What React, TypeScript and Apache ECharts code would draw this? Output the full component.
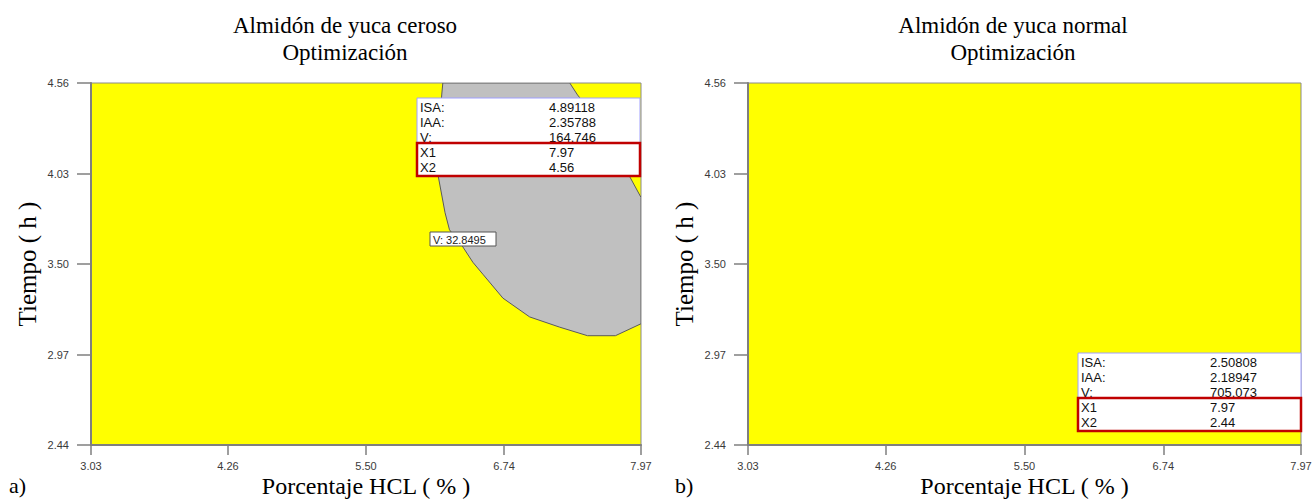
import React, { useEffect, useRef } from "react";
import * as echarts from "echarts";

// Axis ticks shared by both panels
const xTicks = [3.03, 4.26, 5.5, 6.74, 7.97];
const yTicks = [2.44, 2.97, 3.5, 4.03, 4.56];

// Grey contour region (V) in the waxy-starch panel: HCL % and time (h)
const ellipseX = [6.19, 7.33, 7.4, 7.51, 7.65, 7.76, 7.87, 7.97, 7.97, 7.74, 7.49, 7.24, 6.97, 6.73, 6.55, 6.46, 6.37, 6.25, 6.21, 6.15, 6.16, 6.18];
const ellipseY = [4.56, 4.56, 4.49, 4.4, 4.26, 4.13, 4.01, 3.89, 3.15, 3.08, 3.08, 3.13, 3.19, 3.3, 3.44, 3.51, 3.6, 3.7, 3.8, 4.01, 4.23, 4.49];
const contourLabel = "V: 32.8495";

// Optimum readouts
const boxKeys = ["ISA:", "IAA:", "V:", "X1", "X2"];
const waxyValues = ["4.89118", "2.35788", "164.746", "7.97", "4.56"];
const normalValues = ["2.50808", "2.18947", "705.073", "7.97", "2.44"];

const panelTitles = ["Almidón de yuca ceroso", "Almidón de yuca normal"];
const panelSubtitle = "Optimización";
const panelTags = ["a)", "b)"];
const xName = "Porcentaje HCL ( % )";
const yName = "Tiempo ( h )";

const SERIF = "'Liberation Serif', 'Times New Roman', serif";
const SANS = "'Liberation Sans', Arial, sans-serif";
const TOP_Z = 100;

function readoutBox(left: number, top: number, values: string[]) {
  const w = 223;
  const h = 78;
  const row = 15;
  const redTop = 45;
  const children: any[] = [
    { type: "rect", z: TOP_Z, shape: { x: 0, y: 0, width: w, height: h }, style: { fill: "#ffffff", stroke: "#a0a0ff", lineWidth: 1 } },
  ];
  const textRow = (i: number, z: number) => [
    { type: "text", z, x: 3, y: 9 + i * row, style: { text: boxKeys[i], font: `13px ${SANS}`, fill: "#111", verticalAlign: "middle" } },
    { type: "text", z, x: 132, y: 9 + i * row, style: { text: values[i], font: `13px ${SANS}`, fill: "#111", verticalAlign: "middle" } },
  ];
  for (let i = 0; i < 3; i++) children.push(...textRow(i, TOP_Z + 1));
  children.push({
    type: "rect",
    z: TOP_Z + 2,
    shape: { x: 0, y: redTop, width: w, height: h - redTop },
    style: { fill: "#ffffff", stroke: "#c00000", lineWidth: 2.5 },
  });
  for (let i = 3; i < 5; i++) children.push(...textRow(i, TOP_Z + 3));
  return { type: "group", x: left, y: top, z: TOP_Z, children };
}

function axisPair(gridIndex: number) {
  const xAxis = {
    gridIndex,
    type: "value",
    min: 3.03,
    max: 7.97,
    axisLine: { show: true, onZero: false, lineStyle: { color: "#7f7f7f", width: 2 } },
    axisTick: { show: true, customValues: xTicks, length: 10, lineStyle: { color: "#7f7f7f", width: 1.5 } },
    axisLabel: {
      customValues: xTicks,
      formatter: (v: number) => v.toFixed(2),
      fontFamily: SANS,
      fontSize: 11,
      color: "#3a3a3a",
      margin: 15,
    },
    splitLine: { show: false },
    name: xName,
    nameLocation: "middle",
    nameMoveOverlap: false,
    nameGap: 29,
    nameTextStyle: { fontFamily: SERIF, fontSize: 24, color: "#000" },
  };
  const yAxis = {
    gridIndex,
    type: "value",
    min: 2.44,
    max: 4.56,
    axisLine: { show: true, onZero: false, lineStyle: { color: "#7f7f7f", width: 2 } },
    axisTick: { show: true, customValues: yTicks, length: 14, lineStyle: { color: "#7f7f7f", width: 1.5 } },
    axisLabel: {
      customValues: yTicks,
      formatter: (v: number) => v.toFixed(2),
      fontFamily: SANS,
      fontSize: 11,
      color: "#3a3a3a",
      margin: 22,
    },
    splitLine: { show: false },
    name: yName,
    nameLocation: "middle",
    nameMoveOverlap: false,
    nameGap: 51,
    nameTextStyle: { fontFamily: SERIF, fontSize: 25, color: "#000" },
  };
  return { xAxis, yAxis };
}

export default function App() {
  const ref = useRef<HTMLDivElement>(null);

  useEffect(() => {
    if (!ref.current) return;
    const chart = echarts.init(ref.current, undefined, { renderer: "svg" });
    const a = axisPair(0);
    const b = axisPair(1);

    const titleText = (cx: number, title: string) => [
      { type: "text", x: cx, y: 25, z: TOP_Z, style: { text: title, font: `23px ${SERIF}`, fill: "#000", align: "center", verticalAlign: "middle" } },
      { type: "text", x: cx, y: 52, z: TOP_Z, style: { text: panelSubtitle, font: `23px ${SERIF}`, fill: "#000", align: "center", verticalAlign: "middle" } },
    ];

    const gridBase = {
      top: 83,
      height: 362,
      show: true,
      backgroundColor: "#ffff00",
      borderColor: "#8a8a8a",
      borderWidth: 1,
      containLabel: false,
      outerBoundsMode: "none",
    };

    chart.setOption({
      animation: false,
      backgroundColor: "#ffffff",
      grid: [
        { ...gridBase, left: 91, width: 550 },
        { ...gridBase, left: 748, width: 553 },
      ],
      xAxis: [a.xAxis, b.xAxis],
      yAxis: [a.yAxis, b.yAxis],
      series: [
        {
          type: "custom",
          xAxisIndex: 0,
          yAxisIndex: 0,
          clip: true,
          z: 1,
          data: ellipseX.map((x, i) => [x, ellipseY[i]]),
          renderItem: (params: any, api: any) => {
            if (params.dataIndex !== 0) return null;
            const pts = ellipseX.map((x, i) => api.coord([x, ellipseY[i]]));
            return {
              type: "polygon",
              shape: { points: pts },
              style: { fill: "#c0c0c0", stroke: "#5a5a5a", lineWidth: 1 },
            };
          },
        },
      ],
      graphic: [
        ...titleText(345, panelTitles[0]),
        ...titleText(1013, panelTitles[1]),
        { type: "text", x: 9, y: 485, z: TOP_Z, style: { text: panelTags[0], font: `22px ${SERIF}`, fill: "#000", verticalAlign: "middle" } },
        { type: "text", x: 675, y: 485, z: TOP_Z, style: { text: panelTags[1], font: `22px ${SERIF}`, fill: "#000", verticalAlign: "middle" } },
        readoutBox(417, 98, waxyValues),
        readoutBox(1078, 353, normalValues),
        {
          type: "group",
          x: 430,
          y: 232,
          z: TOP_Z,
          children: [
            { type: "rect", z: TOP_Z, shape: { x: 0, y: 0, width: 66, height: 14 }, style: { fill: "#ffffff", stroke: "#555555", lineWidth: 1 } },
            { type: "text", z: TOP_Z + 1, x: 3, y: 7.5, style: { text: contourLabel, font: `11px ${SANS}`, fill: "#222", verticalAlign: "middle" } },
          ],
        },
      ],
    });
    return () => chart.dispose();
  }, []);

  return <div ref={ref} style={{ position: "absolute", left: 0, top: 0, width: 1314, height: 499 }} />;
}
